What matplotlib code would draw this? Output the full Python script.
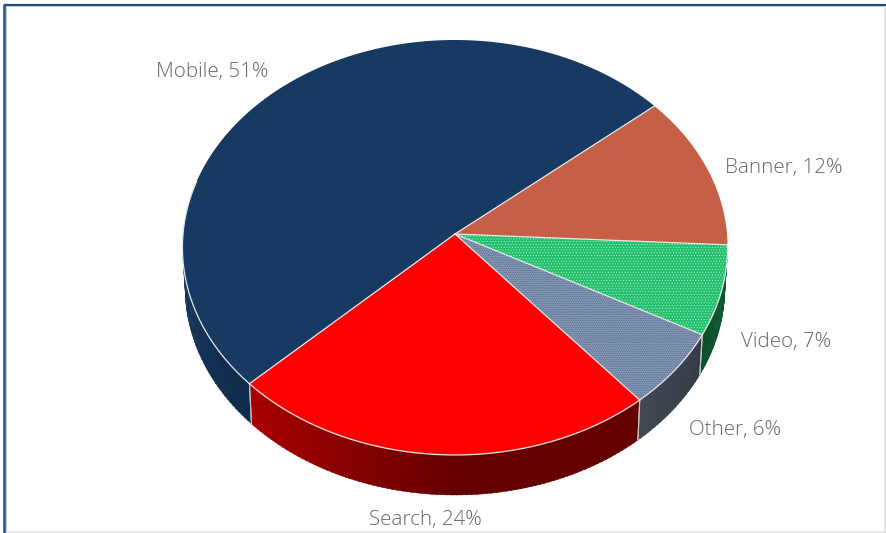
import numpy as np
import matplotlib
matplotlib.use("Agg")
import matplotlib.pyplot as plt
from matplotlib.patches import Polygon

categories = ["Banner", "Video", "Other", "Search", "Mobile"]
shares = [12, 7, 6, 24, 51]
top_colors = ["#c55f45", "#22bf6c", "#8397b5", "#ff0000", "#173a63"]
hatches = [None, "......", ".........", None, None]
hatch_colors = [None, "#a5ecc3", "#52688a", None, None]
side_bright = ["#8a4030", "#0c4f2a", "#3f4853", "#a80000", "#17375d"]
side_dark = ["#8a4030", "#0c5a30", "#343d47", "#640000", "#0f2a4a"]
label_pos = {
    "Mobile": (212, 72), "Banner": (784, 168), "Video": (786, 342),
    "Other": (735, 430), "Search": (425, 520),
}

W, H = 886, 533
CX, CY, RADIUS, TILT_B, PERSP = 455.0, 234.0, 272.0, -191.4, 0.065
DEPTH = 40.0
BASE_SCALE = 0.99
START_DEG = 49.8


def project(theta_deg):
    """Perspective projection of points on the pie rim; angles run clockwise from north."""
    t = np.radians(theta_deg)
    u, v = np.sin(t), np.cos(t)
    w = 1 + PERSP * v
    return CX + RADIUS * u / w, (CY + TILT_B * v) / w


def base_of(x, y):
    """Lower rim of the pie: shifted down and slightly narrower than the top rim."""
    return CX + (x - CX) * BASE_SCALE, y + DEPTH


def mix(a, b, f):
    ca, cb = np.array(matplotlib.colors.to_rgb(a)), np.array(matplotlib.colors.to_rgb(b))
    return tuple(ca + (cb - ca) * f)


plt.rcParams["hatch.linewidth"] = 0.45
fig = plt.figure(figsize=(W / 100, H / 100), dpi=100, facecolor="white")
ax = fig.add_axes([0, 0, 1, 1])
ax.set_xlim(0, W)
ax.set_ylim(H, 0)
ax.axis("off")

# Outer frame: dark top and left edges, pale right and bottom edges
ax.plot([4.5, W], [4.5, 4.5], color="#1f4e7f", lw=1.6, zorder=0, solid_capstyle="butt")
ax.plot([4.5, W], [6.0, 6.0], color="#b9cbe0", lw=0.7, zorder=0, solid_capstyle="butt")
ax.plot([4.5, 4.5], [4, H], color="#1f4e7f", lw=1.8, zorder=0, solid_capstyle="butt")
ax.plot([6.3, 6.3], [6, H], color="#b9cbe0", lw=0.7, zorder=0, solid_capstyle="butt")
ax.plot([7, W], [532, 532], color="#e6e6e6", lw=1.2, zorder=0, solid_capstyle="butt")
ax.plot([885.3, 885.3], [6, H], color="#e2e2e2", lw=1.2, zorder=0, solid_capstyle="butt")

edges = START_DEG + np.concatenate([[0], np.cumsum(shares)]) * 3.6

# Side wall: only the front of the rim shows below the top face
for i in range(len(shares)):
    a0, a1 = edges[i], edges[i + 1]
    lo, hi = max(a0, 96.0), min(a1, 262.0)
    if hi <= lo:
        continue
    steps = int(hi - lo) + 1
    grid = np.linspace(lo, hi, steps + 1)
    for j in range(steps):
        g = np.linspace(grid[j], grid[j + 1] + 0.3, 4)
        x, y = project(g)
        bx, by = base_of(x, y)
        pts = np.r_[np.c_[x, y], np.c_[bx[::-1], by[::-1]]]
        shade = np.clip((grid[j] - 178) / 45, 0, 1) if categories[i] == "Search" else (j + 0.5) / steps
        col = mix(side_dark[i], side_bright[i], shade)
        ax.add_patch(Polygon(pts, closed=True, fc=col, ec=col, lw=0.3, zorder=1))
    for ang in (a0, a1):
        if 96 < ang < 262:
            xe, ye = project(ang)
            bx, by = base_of(xe, ye)
            ax.plot([xe, bx], [ye, by], color="#c4c4c4", lw=0.8, zorder=2)

# Top face
for i in range(len(shares)):
    arc = np.linspace(edges[i], edges[i + 1], 240)
    x, y = project(arc)
    pts = np.r_[[[CX, CY]], np.c_[x, y]]
    ax.add_patch(Polygon(pts, closed=True, fc=top_colors[i], ec="none", zorder=3))
    if hatches[i]:
        ax.add_patch(Polygon(pts, closed=True, fill=False, ec=hatch_colors[i],
                             hatch=hatches[i], lw=0, zorder=4))

# Pale seams along the slice edges and the front of the rim
for ang in edges[:-1]:
    xe, ye = project(ang)
    ax.plot([CX, xe], [CY, ye], color="#e6e6e6", lw=0.9, zorder=5)
front = np.linspace(edges[0] + 43, 285, 400)
fx, fy = project(front)
ax.plot(fx, fy, color="#e6e6e6", lw=0.9, zorder=5)

# Data labels
for name, value in zip(categories, shares):
    px, py = label_pos[name]
    ax.text(px, py, f"{name}, {value}%", ha="center", va="center", fontsize=14.8,
            family=["Open Sans", "DejaVu Sans"], fontweight="light", color="#666666", zorder=6)

fig.savefig("out.png", dpi=100, facecolor="white")
